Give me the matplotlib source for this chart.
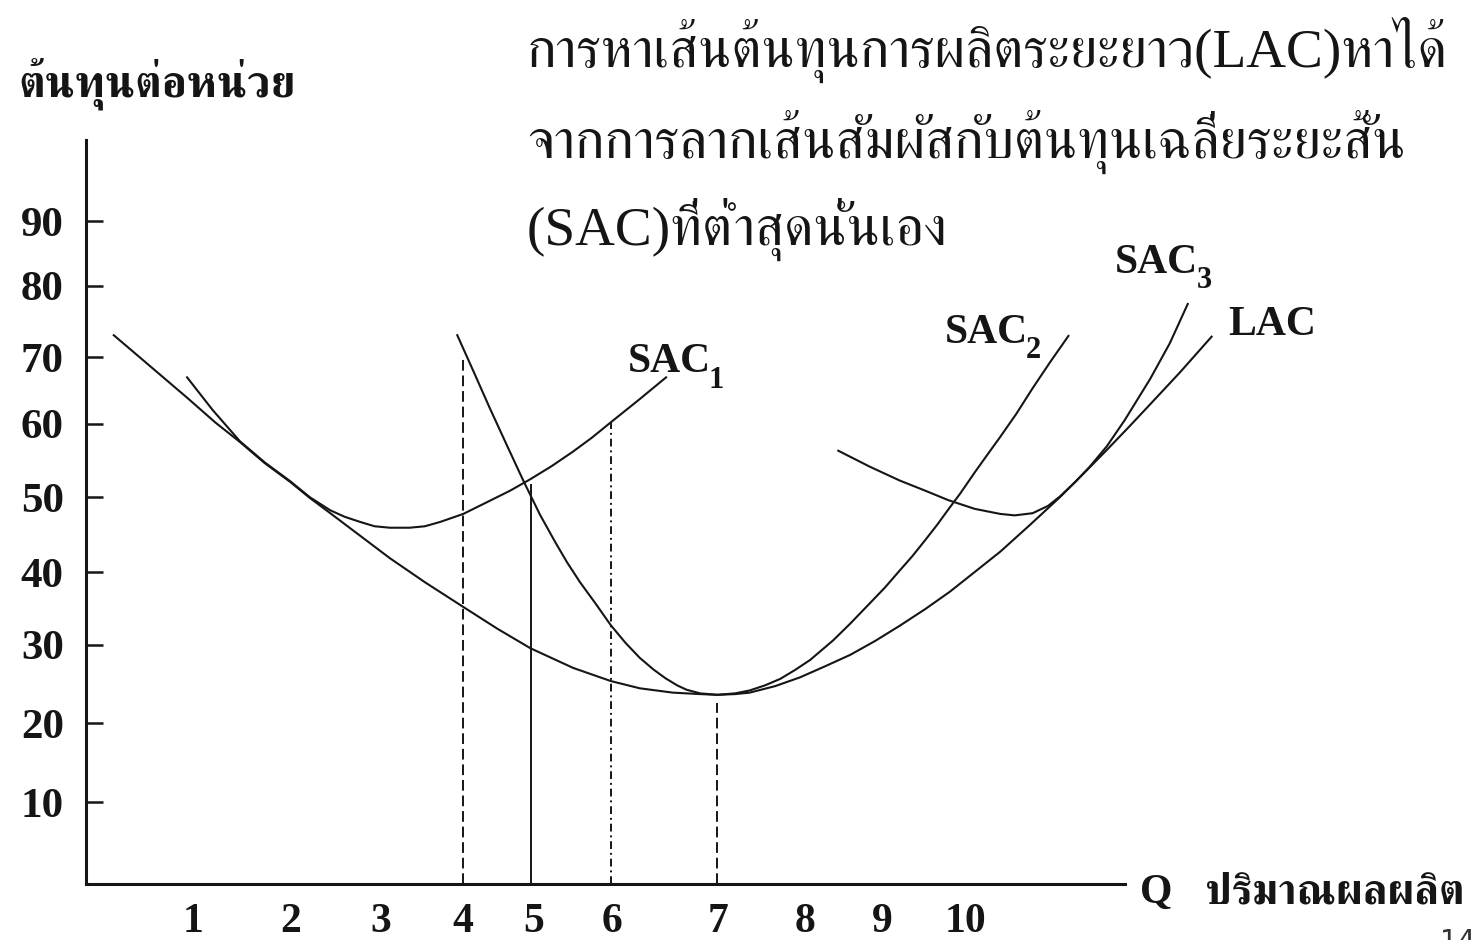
"""Long-run average cost (LAC) as the envelope of short-run average cost curves (SAC1..SAC3)."""

import matplotlib
matplotlib.use("Agg")
import matplotlib.pyplot as plt
from matplotlib import font_manager, ft2font

# ---- values (q = output, c = cost per unit) ----
lac_q = [-0.02, 0.40, 0.84, 1.17, 1.46, 1.75, 2.05, 2.28, 2.52, 2.87, 3.22, 3.63, 4.08, 4.48,
         4.87, 5.37, 5.81, 6.15, 6.54, 6.86, 7.06, 7.27, 7.44, 7.74, 8.03, 8.32, 8.62, 8.91,
         9.20, 9.50, 9.79, 10.08, 10.38, 10.73, 11.08, 11.37, 11.63, 11.90, 12.14, 12.49, 12.86]
lac_c = [73.1, 68.9, 64.5, 61.1, 58.4, 55.5, 52.9, 50.7, 48.6, 45.5, 42.4, 39.1, 35.7, 32.7,
         30.0, 27.3, 25.5, 24.5, 23.9, 23.7, 23.6, 23.7, 23.9, 24.8, 26.0, 27.5, 29.1, 31.0,
         33.1, 35.4, 37.8, 40.5, 43.3, 47.0, 50.8, 54.2, 57.3, 60.6, 63.6, 68.0, 72.9]

sac1_q = [0.84, 1.14, 1.46, 1.75, 2.05, 2.28, 2.52, 2.69, 2.87, 3.04, 3.22, 3.45, 3.63, 3.81,
          4.08, 4.39, 4.63, 4.87, 5.12, 5.37, 5.59, 5.81, 6.15, 6.46]
sac1_c = [67.3, 62.8, 58.5, 55.6, 53.0, 50.8, 49.0, 48.1, 47.4, 46.8, 46.6, 46.6, 46.8, 47.4,
          48.5, 50.3, 51.7, 53.3, 55.1, 57.1, 59.0, 61.1, 64.3, 67.3]

sac2_q = [4.01, 4.22, 4.39, 4.59, 4.78, 4.98, 5.16, 5.30, 5.45, 5.63, 5.81, 5.98, 6.15, 6.31,
          6.45, 6.59, 6.70, 6.86, 7.06, 7.27, 7.44, 7.62, 7.80, 7.97, 8.15, 8.42, 8.62, 8.85,
          9.03, 9.20, 9.35, 9.50, 9.64, 9.77, 9.91, 10.08, 10.22, 10.38, 10.57, 10.76, 10.96,
          11.18]
sac2_c = [73.1, 67.6, 63.1, 58.0, 53.2, 48.4, 44.6, 41.8, 39.1, 36.2, 33.2, 30.8, 28.7, 27.1,
          25.9, 24.9, 24.3, 23.8, 23.6, 23.8, 24.2, 24.9, 25.8, 27.0, 28.4, 31.1, 33.4, 36.2,
          38.4, 40.7, 42.7, 44.9, 47.0, 49.1, 51.3, 54.2, 56.5, 59.1, 62.3, 65.8, 69.3, 73.0]

sac3_q = [8.48, 8.85, 9.20, 9.50, 9.77, 10.08, 10.38, 10.55, 10.76, 10.94, 11.08, 11.26, 11.43,
          11.63, 11.84, 12.14, 12.37, 12.58]
sac3_c = [57.2, 55.0, 53.1, 51.7, 50.4, 49.2, 48.5, 48.3, 48.6, 49.6, 50.9, 52.9, 55.0, 57.8,
          61.4, 67.1, 72.0, 77.4]

# vertical guides: output level and the cost where each one stops
guide_q = [4.08, 4.87, 5.81, 7.06]
guide_top = [70.1, 52.5, 61.1, 22.5]
guide_style = [(0, (5.5, 2.5)), "-", (0, (4, 2, 1, 2)), (0, (5.5, 2.5))]

# hand-placed axis numbers as they sit in the drawing
xtick_pos = [0.91, 2.05, 3.11, 4.08, 4.90, 5.83, 7.07, 8.09, 9.00, 9.97]
xtick_lab = ["1", "2", "3", "4", "5", "6", "7", "8", "9", "10"]
ytick_pos = [8.8, 19.7, 30.5, 40.5, 50.8, 60.9, 70.1, 79.9, 88.8]
ytick_lab = ["10", "20", "30", "40", "50", "60", "70", "80", "90"]

title_lines = ["การหาเส้นต้นทุนการผลิตระยะยาว(LAC)หาได้",
               "จากการลากเส้นสัมผัสกับต้นทุนเฉลี่ยระยะสั้น",
               "(SAC)ที่ต่ำสุดนั่นเอง"]
ylabel = "ต้นทุนต่อหน่วย"
xlabel = "ปริมาณผลผลิต"

W, H = 1472, 940


def thai_families():
    found = []
    for entry in font_manager.fontManager.ttflist:
        try:
            cmap = ft2font.FT2Font(entry.fname).get_charmap()
        except Exception:
            continue
        if 0x0E01 in cmap and entry.name not in found:
            found.append(entry.name)
    serif_words = ("Serif", "Norasi", "Kinnari", "Angsana", "Sarabun", "Laksaman")
    found.sort(key=lambda n: 0 if any(w in n for w in serif_words) else 1)
    return found


def px(x, y):
    return x / W, 1 - y / H


def fit(fig, t, width):
    r = fig.canvas.get_renderer()
    w = t.get_window_extent(r).width
    t.set_fontsize(t.get_fontsize() * width / w)


thai = thai_families()
serif = ["Liberation Serif"] + thai + ["DejaVu Sans"]
thai_first = thai + ["Liberation Serif", "DejaVu Sans"]

fig = plt.figure(figsize=(W / 100, H / 100), dpi=100)
ax = fig.add_axes([86 / W, (H - 884) / H, (W - 86) / W, 884 / H])
ax.set_xlim(-0.346, 15.915)
ax.set_ylim(-2.44, 119.24)

ink = "#151515"
for q, c in [(lac_q, lac_c), (sac1_q, sac1_c), (sac2_q, sac2_c), (sac3_q, sac3_c)]:
    ax.plot(q, c, color=ink, lw=1.5, solid_joinstyle="round", clip_on=False)

for q, top, ls in zip(guide_q, guide_top, guide_style):
    ax.plot([q, q], [-2.44, top], color=ink, lw=1.4, linestyle=ls)

for s in ("top", "right"):
    ax.spines[s].set_visible(False)
ax.spines["left"].set_bounds(-2.44, 100)
ax.spines["bottom"].set_bounds(-0.346, 11.84)
for s in ("left", "bottom"):
    ax.spines[s].set_linewidth(2.2)
    ax.spines[s].set_color(ink)

ax.set_xticks(xtick_pos, xtick_lab, family="Liberation Serif", weight="bold", size=30)
ax.set_yticks(ytick_pos, ytick_lab, family="Liberation Serif", weight="bold", size=31)
ax.tick_params(axis="x", length=0, pad=14, colors=ink)
ax.tick_params(axis="y", direction="in", length=12, width=1.8, pad=16, colors=ink)

# curve labels, subscripts dropped well below the baseline as in the drawing
lab = dict(family="Liberation Serif", weight="bold", fontsize=30, color=ink,
           va="baseline", ha="left")
for x, y, sub in [(6.01, 68.0, "1"), (9.73, 72.0, "2"), (11.73, 81.7, "3")]:
    t = ax.text(x, y, "SAC", **lab)
    ax.annotate(sub, xy=(1, 0), xycoords=t, xytext=(-1.5, -4.5), textcoords="offset points",
                family="Liberation Serif", weight="bold", fontsize=22, color=ink,
                va="baseline", ha="left")
ax.text(13.05, 73.1, "LAC", **lab)

# explanatory text, top right
baselines = [67, 158, 245]
titles = [fig.text(*px(527, b), line, family=serif, fontsize=34, color=ink,
                   va="baseline", ha="left") for line, b in zip(title_lines, baselines)]
fig.canvas.draw()
r = fig.canvas.get_renderer()
scale = 923 / titles[0].get_window_extent(r).width
for t in titles:
    t.set_fontsize(t.get_fontsize() * scale)

yl = fig.text(*px(18, 97), ylabel, family=thai_first, weight="bold", fontsize=28,
              color=ink, va="baseline", ha="left")
fig.text(*px(1140, 903), "Q", family="Liberation Serif", weight="bold", fontsize=30,
         color=ink, va="baseline", ha="left")
xl = fig.text(*px(1205, 903), xlabel, family=thai_first, weight="bold", fontsize=28,
              color=ink, va="baseline", ha="left")
fig.canvas.draw()
fit(fig, yl, 277)
fit(fig, xl, 260)

# page number, cut off by the slide edge
fig.text(*px(1440, 950), "14", family="DejaVu Sans", fontsize=20, color="#333333",
         va="baseline", ha="left")

fig.savefig("out.png", dpi=100)
